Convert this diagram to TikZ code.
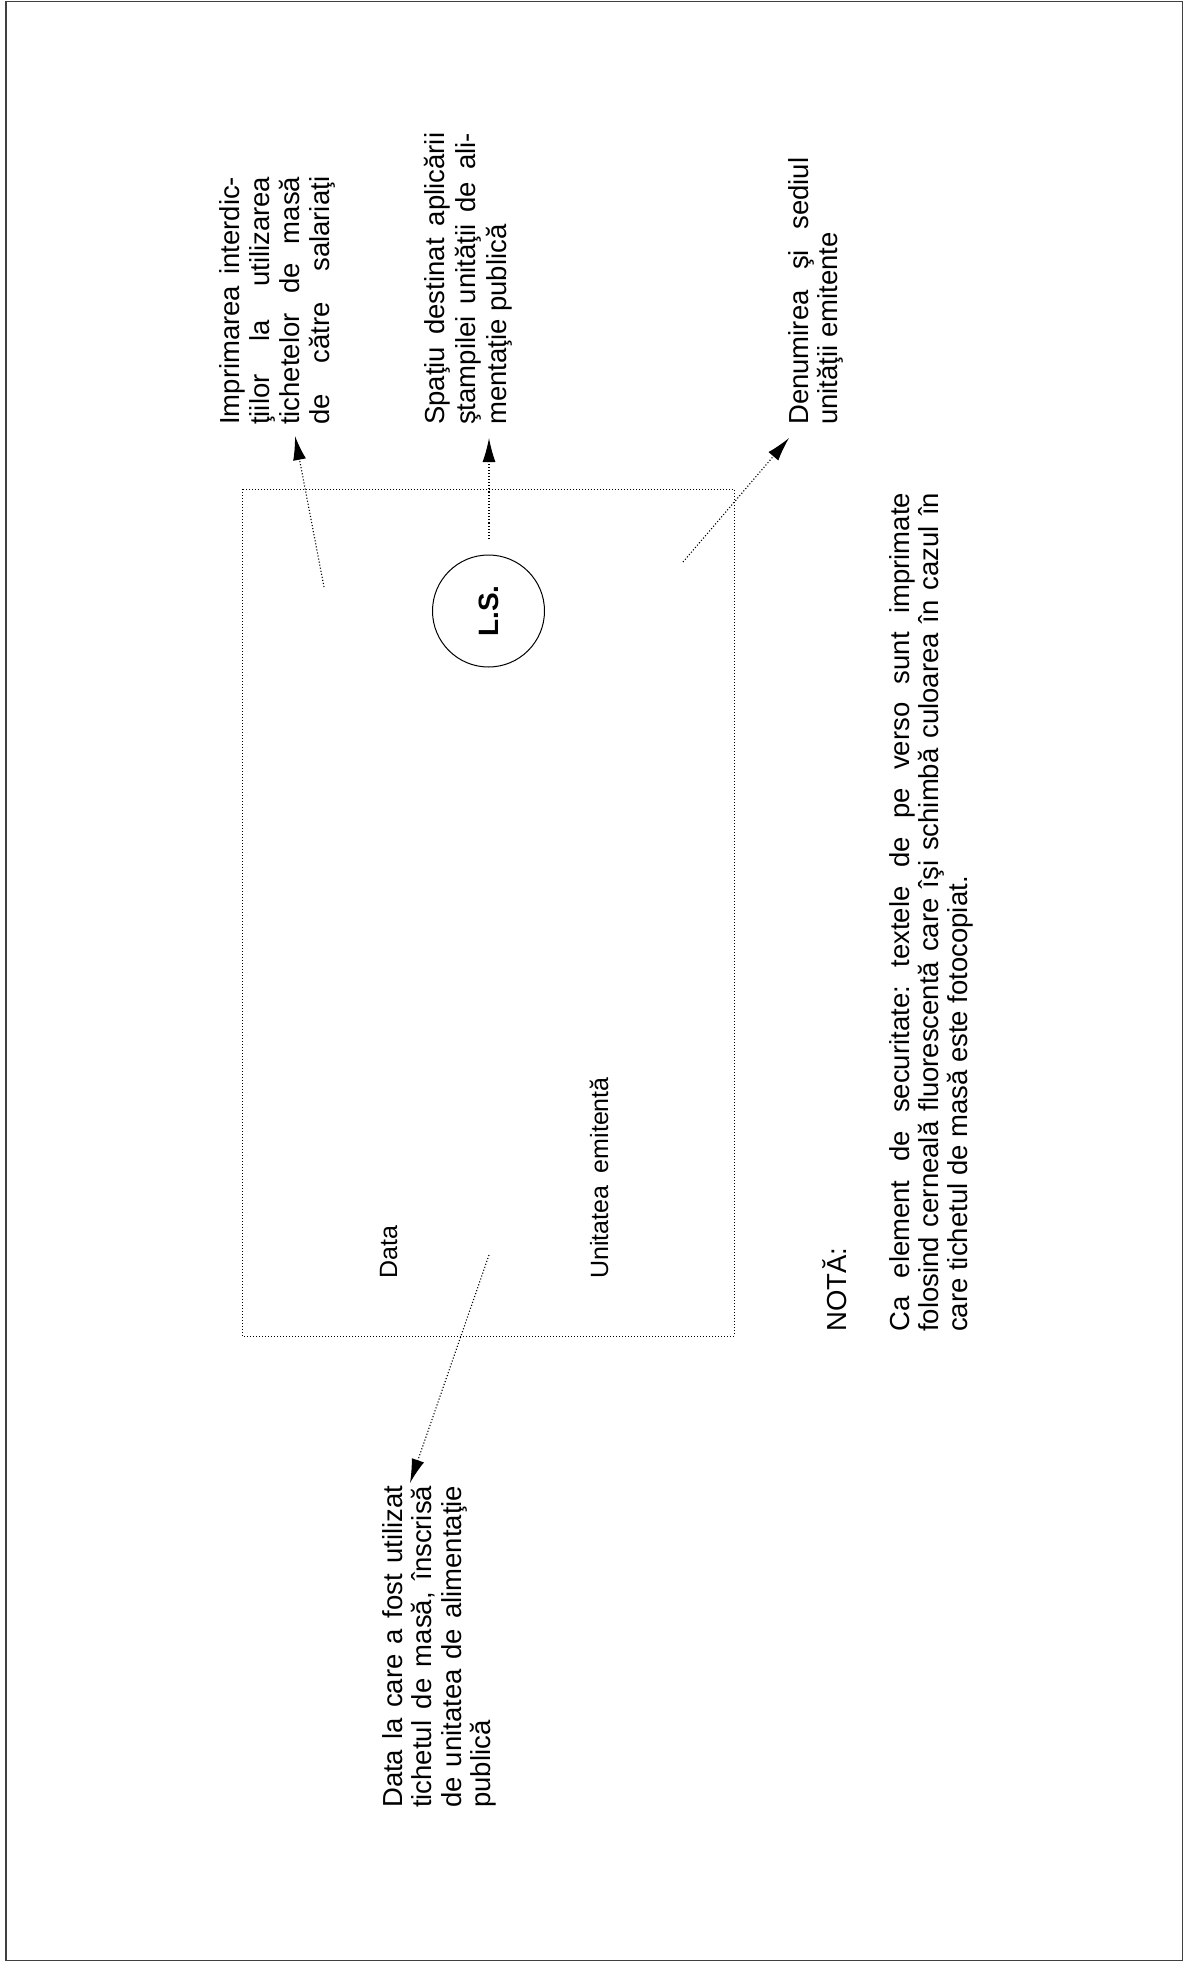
\documentclass[tikz,border=0pt]{standalone}
\usepackage{fontspec}
\setmainfont{Liberation Sans}
\usetikzlibrary{arrows.meta}
\frenchspacing
\newcommand\Jline[2]{\hbox{\makebox[#1][s]{#2}}}
\newcommand\Nline[1]{\hbox{#1}}
\newcommand\Tblock[2]{\vtop{\baselineskip=#1\lineskiplimit=-100pt\lineskip=0pt #2}}
\begin{document}
\begin{tikzpicture}[x=1pt,y=-1pt,
  txt/.style={rotate=90, anchor=base west, inner sep=0pt, font=\fontsize{27.5}{30}\selectfont},
  lbl/.style={rotate=90, anchor=base west, inner sep=0pt, font=\fontsize{25}{27}\selectfont},
  ptr/.style={dotted, line width=1.1pt, -{Latex[length=24pt,width=13pt]}},
  card/.style={dotted, line width=1pt},
  frame/.style={draw=black!75, line width=1.5pt}]
\useasboundingbox (0,0) rectangle (1184,1962);
\draw[frame] (6,1.5) rectangle (1182.5,1960.5);
% ticket outline
\draw[card] (242,489) rectangle (734,1336);
% stamp
\node[circle, draw, line width=1pt, minimum size=112pt, inner sep=0pt, rotate=90,
      font=\bfseries\fontsize{28}{28}\selectfont] (ls) at (488.5,611) {L.S.};
% labels inside the ticket
\node[lbl] (data) at (397,1279) {Data};
\node[lbl] (unit) at (608,1279) {Unitatea\hspace{0.5em}emitentă};
% explanation blocks
\node[txt] (impr) at (239,425) {\Tblock{30pt}{%
  \Jline{248pt}{Imprimarea interdic-}%
  \Jline{248pt}{ţiilor la utilizarea}%
  \Jline{248pt}{tichetelor de masă}%
  \Jline{248pt}{de către salariaţi}}};
\node[txt] (spat) at (444,425) {\Tblock{31pt}{%
  \Jline{292pt}{Spaţiu destinat aplicării}%
  \Jline{292pt}{ştampilei unităţii de ali-}%
  \Nline{mentaţie publică}}};
\node[txt] (denu) at (808,425) {\Tblock{29.5pt}{%
  \Jline{267pt}{Denumirea şi sediul}%
  \Nline{unităţii emitente}}};
\node[txt] (dexp) at (402,1808) {\Tblock{29.5pt}{%
  \Jline{322pt}{Data la care a fost utilizat}%
  \Jline{322pt}{tichetul de masă, înscrisă}%
  \Jline{322pt}{de unitatea de alimentaţie}%
  \Nline{publică}}};
\node[txt] (nota) at (846,1332) {NOTĂ:};
\node[txt] (note) at (909,1332) {\Tblock{29pt}{%
  \Jline{839pt}{Ca element de securitate: textele de pe verso sunt imprimate}%
  \Jline{839pt}{folosind cerneală fluorescentă care îşi schimbă culoarea în cazul în}%
  \Nline{care tichetul de masă este fotocopiat.}}};
% pointer ends
\coordinate (a1s) at (324,587);  \coordinate (a1t) at (295,436);
\coordinate (a2s) at (489,539);  \coordinate (a2t) at (489,438);
\coordinate (a3s) at (683,562);  \coordinate (a3t) at (789,438);
\coordinate (a4s) at (489,1255); \coordinate (a4t) at (410,1483);
\draw[ptr] (a1s) -- (a1t);
\draw[ptr] (a2s) -- (a2t);
\draw[ptr] (a3s) -- (a3t);
\draw[ptr] (a4s) -- (a4t);
\end{tikzpicture}
\end{document}
